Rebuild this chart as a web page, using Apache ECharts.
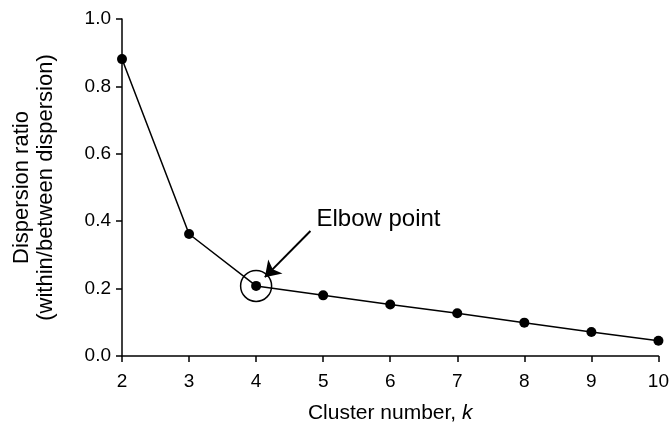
<!DOCTYPE html>
<html>
<head>
<meta charset="utf-8">
<script src="https://cdn.jsdelivr.net/npm/echarts@6/dist/echarts.min.js"></script>
<style>html,body{margin:0;padding:0;background:#fff;}#c{width:672px;height:429px;}</style>
</head>
<body>
<div id="c"></div>
<script>
const kValues = [2, 3, 4, 5, 6, 7, 8, 9, 10];
const dispersionRatio = [0.881, 0.362, 0.208, 0.180, 0.153, 0.127, 0.099, 0.071, 0.045];
const elbowIndex = 2;
const annotationText = 'Elbow point';
const arrowFrom = [4.81, 0.371];
const arrowTo = [4.13, 0.234];
const textAnchor = [4.90, 0.404];

const font = 'Liberation Sans, Arial, Helvetica, sans-serif';
const chart = echarts.init(document.getElementById('c'), null, {renderer: 'canvas'});
chart.setOption({
  backgroundColor: '#fff',
  animation: false,
  grid: {left: 122, right: 13, top: 19, bottom: 73, containLabel: false},
  xAxis: {
    type: 'value', min: 2, max: 10, interval: 1,
    name: '{n|Cluster number, }{k|k}', nameLocation: 'middle', nameGap: 47,
    nameTextStyle: {rich: {
      n: {fontFamily: font, fontSize: 21, color: '#000'},
      k: {fontFamily: font, fontSize: 21, fontStyle: 'italic', color: '#000'}
    }},
    axisLine: {show: true, onZero: false, lineStyle: {color: '#000', width: 1.5}},
    axisTick: {show: true, length: 6, lineStyle: {color: '#000', width: 1.5}},
    axisLabel: {fontFamily: font, fontSize: 19, color: '#000', margin: 16},
    splitLine: {show: false}
  },
  yAxis: {
    type: 'value', min: 0, max: 1, interval: 0.2,
    name: 'Dispersion ratio\n(within/between dispersion)', nameLocation: 'middle', nameGap: 64,
    nameTextStyle: {fontFamily: font, fontSize: 22, color: '#000', lineHeight: 24},
    axisLine: {show: true, lineStyle: {color: '#000', width: 1.5}},
    axisTick: {show: true, length: 6, lineStyle: {color: '#000', width: 1.5}},
    axisLabel: {fontFamily: font, fontSize: 19, color: '#000', margin: 11, formatter: v => v.toFixed(1)},
    splitLine: {show: false}
  },
  series: [{
    type: 'line',
    data: kValues.map((k, i) => [k, dispersionRatio[i]]),
    symbol: 'circle', symbolSize: 10,
    itemStyle: {color: '#000'},
    lineStyle: {color: '#000', width: 1.5},
    clip: false,
    markPoint: {
      silent: true,
      data: [
        {coord: [kValues[elbowIndex], dispersionRatio[elbowIndex]], symbol: 'circle', symbolSize: 31,
         itemStyle: {color: 'rgba(0,0,0,0)', borderColor: '#000', borderWidth: 1.5},
         label: {show: false}},
        {coord: textAnchor, symbol: 'circle', symbolSize: 0,
         label: {show: true, formatter: annotationText, position: 'inside', align: 'left', verticalAlign: 'middle',
                 fontFamily: font, fontSize: 24, color: '#000'}}
      ]
    },
    markLine: {
      silent: true,
      symbol: ['none', 'arrow'], symbolSize: 15,
      lineStyle: {color: '#000', width: 2, type: 'solid'},
      label: {show: false},
      data: [[{coord: arrowFrom}, {coord: arrowTo}]]
    }
  }]
});
</script>
</body>
</html>
